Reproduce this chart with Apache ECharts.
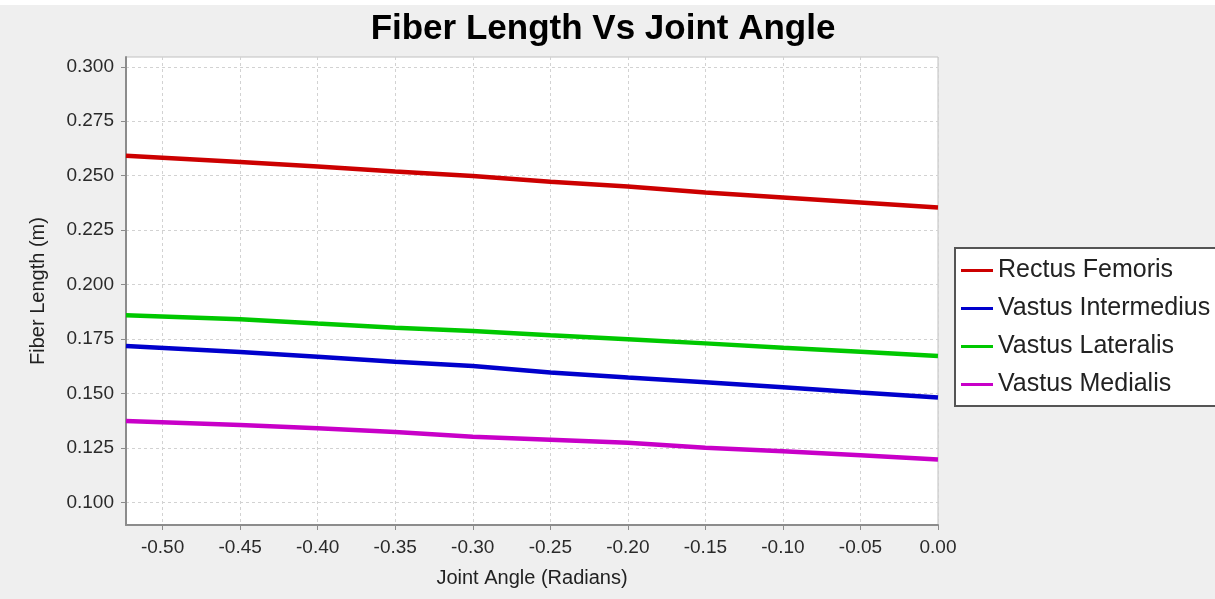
<!DOCTYPE html>
<html>
<head>
<meta charset="utf-8">
<title>Fiber Length Vs Joint Angle</title>
<script src="https://cdn.jsdelivr.net/npm/echarts@6/dist/echarts.min.js"></script>
<style>
  html, body { margin: 0; padding: 0; background: #efefef; }
  #chart { width: 1215px; height: 599px; }
</style>
</head>
<body>
<div id="chart"></div>
<script>
// joint angle samples (radians)
const jointAngles = [-0.5236, -0.45, -0.40, -0.35, -0.30, -0.25, -0.20, -0.15, -0.10, -0.05, 0];

const rectusFemoris      = [0.2591, 0.2563, 0.2542, 0.2519, 0.2499, 0.2472, 0.2450, 0.2423, 0.2400, 0.2377, 0.2354];
const vastusIntermedius  = [0.1718, 0.1690, 0.1669, 0.1646, 0.1626, 0.1596, 0.1573, 0.1552, 0.1529, 0.1504, 0.1481];
const vastusLateralis    = [0.1859, 0.1841, 0.1821, 0.1802, 0.1787, 0.1767, 0.1749, 0.1730, 0.1710, 0.1692, 0.1672];
const vastusMedialis     = [0.1373, 0.1355, 0.1340, 0.1323, 0.1301, 0.1288, 0.1274, 0.1251, 0.1235, 0.1216, 0.1197];

const xTicks = [-0.50, -0.45, -0.40, -0.35, -0.30, -0.25, -0.20, -0.15, -0.10, -0.05, 0.00];
const yTicks = [0.100, 0.125, 0.150, 0.175, 0.200, 0.225, 0.250, 0.275, 0.300];

const seriesNames = ['Rectus Femoris', 'Vastus Intermedius', 'Vastus Lateralis', 'Vastus Medialis'];
const seriesColors = ['#cc0000', '#0000cc', '#00c800', '#c800c8'];
const seriesValues = [rectusFemoris, vastusIntermedius, vastusLateralis, vastusMedialis];

const chart = echarts.init(document.getElementById('chart'));

// dashed grid lines like the java chart
const gridLine = { show: true, lineStyle: { color: '#d2d2d2', type: [3, 3], width: 1 } };

chart.setOption({
  backgroundColor: '#efefef',
  animation: false,
  graphic: [
    // thin white strip at the very top of the screenshot
    { type: 'rect', left: 0, top: 0, shape: { width: 1215, height: 5 }, style: { fill: '#ffffff' }, silent: true }
  ],
  title: {
    text: 'Fiber Length Vs Joint Angle',
    left: 598, top: 7, textAlign: 'center',
    textStyle: { fontFamily: 'Liberation Sans', fontWeight: 'bold', fontSize: 35, color: '#000' }
  },
  legend: {
    orient: 'vertical',
    left: 955, top: 248,
    padding: [10, 6, 9, 6],
    itemGap: 13,
    itemWidth: 32, itemHeight: 3,
    icon: 'rect',
    backgroundColor: '#ffffff',
    borderColor: '#555555', borderWidth: 2, borderRadius: 0,
    textStyle: { fontFamily: 'Liberation Sans', fontSize: 25, lineHeight: 24, color: '#222' },
    data: seriesNames
  },
  grid: {
    left: 126, right: 277, top: 57, height: 468,
    show: true, backgroundColor: '#ffffff', borderColor: '#c0c0c0', borderWidth: 1
  },
  xAxis: {
    type: 'value',
    min: -0.5236, max: 0,
    name: 'Joint Angle (Radians)',
    nameLocation: 'middle', nameGap: 43,
    nameTextStyle: { fontFamily: 'Liberation Sans', fontSize: 20, color: '#222' },
    axisLine: { show: true, onZero: false, lineStyle: { color: '#8c8c8c', width: 2 } },
    axisTick: { show: true, length: 5, customValues: xTicks, lineStyle: { color: '#8c8c8c' } },
    axisLabel: {
      customValues: xTicks, margin: 13,
      fontFamily: 'Liberation Sans', fontSize: 19, color: '#2a2a2a',
      formatter: v => (Math.abs(v) < 1e-9 ? 0 : v).toFixed(2)
    },
    splitLine: gridLine
  },
  yAxis: {
    type: 'value',
    min: 0.0896, max: 0.3045,
    name: 'Fiber Length (m)',
    nameLocation: 'middle', nameGap: 78,
    nameTextStyle: { fontFamily: 'Liberation Sans', fontSize: 20, color: '#222' },
    axisLine: { show: true, onZero: false, lineStyle: { color: '#8c8c8c', width: 2 } },
    axisTick: { show: true, length: 5, customValues: yTicks, lineStyle: { color: '#8c8c8c' } },
    axisLabel: {
      customValues: yTicks, margin: 12,
      fontFamily: 'Liberation Sans', fontSize: 19, color: '#2a2a2a',
      formatter: v => v.toFixed(3)
    },
    splitLine: gridLine
  },
  series: seriesNames.map((name, i) => ({
    name: name,
    type: 'line',
    showSymbol: false,
    color: seriesColors[i],
    lineStyle: { width: 4.5, color: seriesColors[i] },
    data: jointAngles.map((x, j) => [x, seriesValues[i][j]])
  }))
});
</script>
</body>
</html>
